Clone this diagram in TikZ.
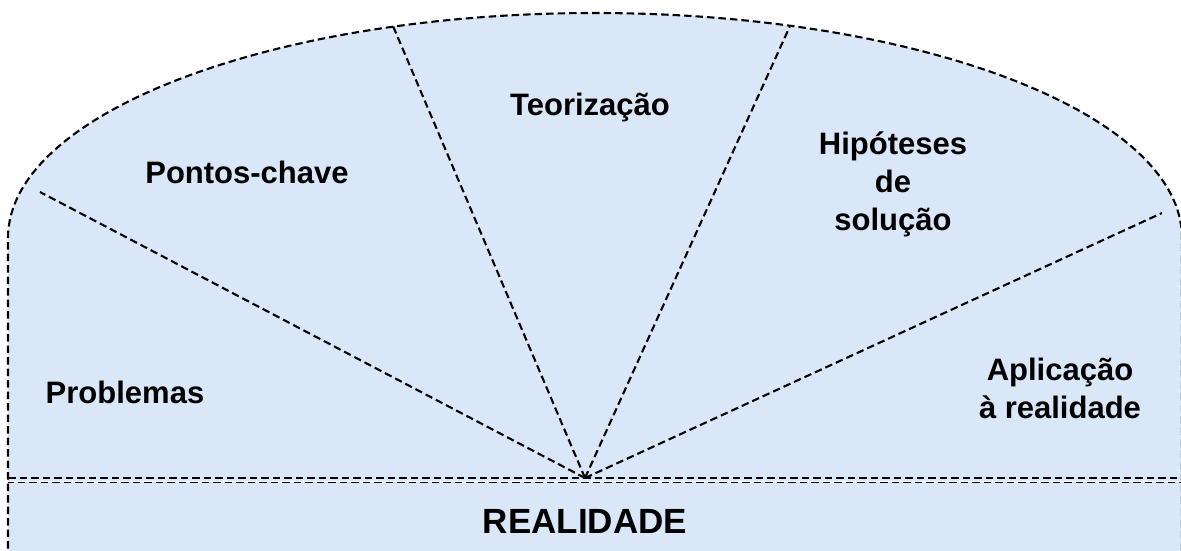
\documentclass[tikz,border=0pt]{standalone}
\usepackage{fontspec}
\setmainfont{Liberation Sans}
\definecolor{bgblue}{RGB}{217,231,248}
\begin{document}
\begin{tikzpicture}[x=1pt,y=-1pt,
  dline/.style={line width=2.1pt, dash pattern=on 7.5pt off 4pt},
  lbl/.style={font=\fontsize{31}{38}\selectfont\bfseries, align=center, inner sep=0pt}]
\useasboundingbox (0,0) rectangle (1181,550);
% dome area
\fill[bgblue] (8,560) -- (8,238) arc[start angle=180, end angle=0, x radius=587pt, y radius=225pt] -- (1182,560) -- cycle;
\draw[dline] (8,560) -- (8,238) arc[start angle=180, end angle=0, x radius=587pt, y radius=225pt] -- (1182,560);
% centre and ray ends
\coordinate (c) at (585,478);
\coordinate (r1) at (40,192);
\coordinate (r2) at (393,26);
\coordinate (r3) at (790,26);
\coordinate (r4) at (1162,213);
\coordinate (hl) at (8,478);
\coordinate (hr) at (1182,478);
\draw[dline] (c) -- (r1);
\draw[dline] (c) -- (r2);
\draw[dline] (c) -- (r3);
\draw[dline] (c) -- (r4);
% horizontal separator (double)
\draw[white, line width=0.8pt] ([yshift=-2.9pt]hl) -- ([yshift=-2.9pt]hr);
\draw[dline] (hl) -- (hr);
\draw[dline, dash phase=2pt, line width=1.3pt] ([yshift=-4.6pt]hl) -- ([yshift=-4.6pt]hr);
% labels
\node[lbl] (teo) at (590,107) {Teorização};
\node[lbl] (pc) at (247,172) {Pontos-chave};
\node[lbl] (hip) at (893,184) {Hipóteses\\de\\solução};
\node[lbl] (prob) at (125,392) {Problemas};
\node[lbl] (apl) at (1060,388) {Aplicação\\à realidade};
\node[lbl, font=\fontsize{35}{42}\selectfont\bfseries] (real) at (585,521) {REALIDADE};
\end{tikzpicture}
\end{document}
